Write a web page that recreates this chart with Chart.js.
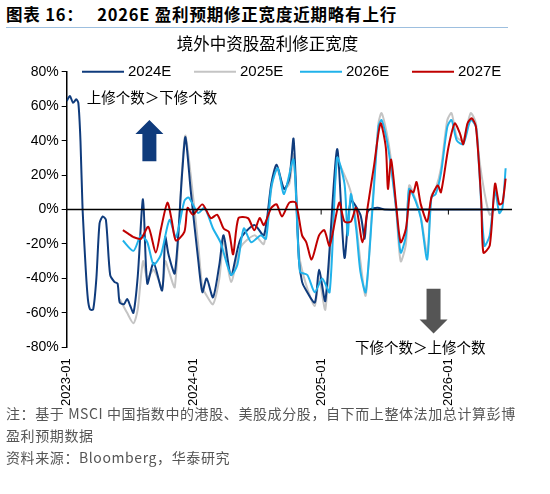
<!DOCTYPE html>
<html><head><meta charset="utf-8">
<script src="https://cdn.jsdelivr.net/npm/chart.js@4"></script>
<style>
body{margin:0;width:550px;height:494px;background:#fff;font-family:"Liberation Sans",Arial,"Noto Sans CJK SC",sans-serif;position:relative;overflow:hidden}
#hdr{position:absolute;left:6px;top:2px;font-size:16.5px;font-weight:bold;color:#000;font-family:"Noto Sans CJK SC",sans-serif;letter-spacing:0.8px}
#line{position:absolute;left:6px;top:27px;width:502px;height:1px;background:#9dbfdf}
#cw{position:absolute;left:0;top:30px;width:550px;height:379px}
#ft{position:absolute;left:6px;top:402px;font-size:14px;color:#555;line-height:22px;font-family:"Noto Sans CJK SC",sans-serif;letter-spacing:0.6px}
</style></head><body>
<div id="hdr">图表 16：&nbsp;&nbsp;&nbsp;2026E 盈利预期修正宽度近期略有上行</div>
<div id="line"></div>
<div id="cw"><canvas id="c"></canvas></div>
<div id="ft">注：基于 MSCI 中国指数中的港股、美股成分股，自下而上整体法加总计算彭博<br>盈利预期数据<br>资料来源：Bloomberg，华泰研究</div>
<script>
const seriesNames=["2024E","2025E","2026E","2027E"];
const xTickLabels={0:"2023-01",12:"2024-01",24:"2025-01",36:"2026-01"};
const yTicks=[-80,-60,-40,-20,0,20,40,60,80];
const s2024=[[0,63],[0.3,66],[0.6,62],[0.9,64],[1.1,62],[1.3,40],[1.5,0],[1.8,-35],[2.0,-52],[2.2,-58],[2.5,-58],[2.8,-40],[3.1,-8],[3.4,-4],[3.7,-6],[4.1,-38],[4.5,-42],[4.8,-43],[5.0,-54],[5.4,-55],[5.7,-52],[6.0,-56],[6.3,-60],[6.7,-39],[7.2,6],[7.6,-43],[8.2,-31],[9.0,-47],[9.3,-16],[9.6,-26],[10.2,-37],[10.9,22],[11.2,42],[11.7,11],[12.4,-29],[12.8,-48],[13.2,-40],[13.8,-51],[14.4,-32],[14.8,-15],[15.5,-38],[16.4,-17],[17.7,-9],[18.6,-15],[19.3,15],[19.8,26],[20.5,12],[21,18],[21.4,41],[21.9,-29],[22.2,-42],[22.5,-46],[23.4,-54],[23.8,-35],[24.4,-53],[25.5,35],[26.2,-28],[26.8,5],[27.7,-3],[28.1,-17],[28.4,-1],[29.3,1],[30,0],[32,0],[36,0],[40.5,0]];
const s2025=[[5.0,-52],[5.7,-60],[6.3,-66],[6.7,-58],[7.2,-30],[7.6,-40],[8.2,-35],[9.0,-45],[9.3,-30],[9.6,-35],[10.2,-45],[10.9,25],[11.2,43],[11.7,20],[12.4,-20],[12.8,-45],[13.2,-50],[13.8,-55],[14.4,-40],[14.8,-18],[15.5,-42],[16.4,-22],[17.7,-15],[18.6,-20],[19.3,12],[19.8,24],[20.5,12],[21,15],[21.4,32],[21.9,-25],[22.5,-42],[23.4,-56],[23.8,-40],[24.4,-58],[25.5,28],[26.2,20],[26.8,10],[27.3,-8],[27.7,-30],[28.2,-50],[28.8,0],[29.4,50],[29.7,56],[30.2,44],[30.6,28],[31.1,-2],[31.5,-30],[32,-20],[32.3,14],[32.9,6],[33.4,-4],[34,-25],[34.4,8],[34.8,12],[35.3,24],[35.9,52],[36.3,56],[36.8,42],[37.4,40],[38.1,56],[38.6,50],[38.9,30],[39.4,10],[39.9,-3],[40.4,0],[41.1,0]];
const s2026=[[5.3,-18],[6.3,-24],[7.0,-15],[7.6,-19],[8.2,-32],[8.9,-26],[9.7,-6],[10.3,-16],[11.1,5],[11.5,7],[12.4,-2],[13,1],[13.8,-11],[14.5,-19],[15.5,-38],[16.1,-32],[16.7,-11],[17.4,-19],[18.3,-15],[18.8,-17],[19.3,13],[19.9,24],[20.5,9],[21.4,29],[22,-36],[22.7,-38],[23.4,-48],[24.1,-40],[24.8,-48],[25.5,30],[26.2,15],[26.5,-15],[26.8,9],[27.3,-11],[27.7,-36],[28.2,-48],[28.8,-3],[29.4,48],[29.7,52],[30.2,40],[30.6,24],[31.1,-1],[31.5,-25],[32,-15],[32.3,12],[32.9,5],[33.4,-5],[34,-29],[34.4,7],[34.8,9],[35.3,21],[35.9,48],[36.3,52],[36.8,40],[37.4,38],[38.1,52],[38.6,48],[38.9,24],[39.4,-21],[39.9,-15],[40.4,11],[40.8,-2],[41.1,1],[41.4,24]];
const s2027=[[5.3,-12],[5.8,-14],[6.3,-16],[7,-17],[7.7,-10],[8.4,-25],[8.9,-11],[9.5,4],[9.9,-6],[10.3,-18],[11.1,-13],[11.4,1],[11.9,-3],[12.8,3],[13.6,-5],[14.2,-3],[14.8,-11],[15.3,-13],[15.7,-26],[16.2,-5],[17.1,-5],[17.7,-12],[18.2,-5],[18.6,-9],[19.3,1],[19.8,3],[20.3,-4],[21,4],[21.6,4],[22.2,-15],[22.6,-19],[23.1,-29],[23.8,-15],[24.3,-12],[24.8,-21],[25.7,4],[26.2,-7],[26.8,-7],[27.3,1],[27.9,-19],[28.4,2],[29,26],[29.6,50],[30.1,36],[30.3,12],[30.6,29],[31.1,1],[31.5,-19],[32,-11],[32.4,11],[32.7,10],[33,16],[33.4,3],[34,-7],[34.4,7],[35,14],[35.3,10],[36,36],[36.6,50],[37.1,44],[37.4,38],[37.8,50],[38.2,53],[38.6,48],[39.1,5],[39.3,-25],[39.9,-21],[40.4,15],[40.8,3],[41.1,4],[41.4,18]];
const colors=["#0f3b7c","#c4c4c4","#20b2ea","#c00000"];
const all=[s2024,s2025,s2026,s2027];
const order=[1,0,2,3];
const datasets=order.map(i=>({label:seriesNames[i],data:all[i].map(p=>({x:p[0],y:p[1]})),borderColor:colors[i],backgroundColor:colors[i],borderWidth:2,pointRadius:0,tension:0.25,order:[2,3,1,0][i]}));
const deco={id:'deco',afterDraw(ch){
 const c=ch.ctx,xs=ch.scales.x,ys=ch.scales.y;
 c.save();
 const y0=ys.getPixelForValue(0);
 c.strokeStyle='#000';c.lineWidth=1.5;c.beginPath();c.moveTo(xs.left,y0);c.lineTo(xs.right,y0);c.stroke();
 c.lineWidth=1;
 [12,24,36].forEach(v=>{const px=xs.getPixelForValue(v);c.beginPath();c.moveTo(px,y0);c.lineTo(px,y0+5);c.stroke();});
 c.font='15px "Liberation Sans",Arial';c.textBaseline='middle';
 const ly=ys.getPixelForValue(80);
 const lx=[82,194,300,412];
 [0,1,2,3].forEach(i=>{c.strokeStyle=colors[i];c.lineWidth=2;c.beginPath();c.moveTo(lx[i],ly);c.lineTo(lx[i]+42,ly);c.stroke();c.fillStyle='#000';c.fillText(seriesNames[i],lx[i]+46,ly);});
 c.font='14.5px "Noto Sans CJK SC"';c.fillStyle='#000';
 c.fillText('上修个数＞下修个数',xs.left+20,ys.getPixelForValue(65));
 c.fillText('下修个数＞上修个数',xs.getPixelForValue(27.2),ys.getPixelForValue(-80));
 const arrow=(cx,yTop,yBot,up,col)=>{c.fillStyle=col;c.beginPath();
  if(up){c.moveTo(cx,yTop);c.lineTo(cx+14,yTop+14);c.lineTo(cx+7,yTop+14);c.lineTo(cx+7,yBot);c.lineTo(cx-7,yBot);c.lineTo(cx-7,yTop+14);c.lineTo(cx-14,yTop+14);}
  else{c.moveTo(cx,yBot);c.lineTo(cx+14,yBot-14);c.lineTo(cx+7,yBot-14);c.lineTo(cx+7,yTop);c.lineTo(cx-7,yTop);c.lineTo(cx-7,yBot-14);c.lineTo(cx-14,yBot-14);}
  c.closePath();c.fill();};
 arrow(xs.getPixelForValue(7.8),ys.getPixelForValue(52),ys.getPixelForValue(28),true,'#0f3b7c');
 arrow(xs.getPixelForValue(34.6),ys.getPixelForValue(-46),ys.getPixelForValue(-72),false,'#555');
 c.restore();
}};
new Chart(document.getElementById('c'),{type:'line',data:{datasets},
options:{responsive:true,maintainAspectRatio:false,animation:false,
layout:{padding:{top:0,right:38,bottom:0,left:23}},
plugins:{legend:{display:false},tooltip:{enabled:false},
title:{display:true,text:'境外中资股盈利修正宽度',font:{size:16.5,family:'"Noto Sans CJK SC"',weight:'normal'},color:'#000',padding:{top:4,bottom:18}}},
scales:{x:{type:'linear',min:0,max:42,grid:{display:false},border:{display:false},
 afterBuildTicks(s){s.ticks=[0,12,24,36].map(v=>({value:v}));},
 ticks:{autoSkip:false,maxRotation:90,minRotation:90,color:'#000',font:{size:13,family:'"Liberation Sans",Arial'},callback:v=>xTickLabels[v]||''}},
 y:{min:-80,max:80,afterBuildTicks(s){s.ticks=yTicks.map(v=>({value:v}));},
 grid:{display:true,drawOnChartArea:false,drawTicks:true,tickLength:5,color:'#000'},border:{display:true,color:'#000',width:1.5},
 ticks:{color:'#000',font:{size:14,family:'"Liberation Sans",Arial'},callback:v=>v+'%'}}}},
plugins:[deco]});
</script></body></html>
